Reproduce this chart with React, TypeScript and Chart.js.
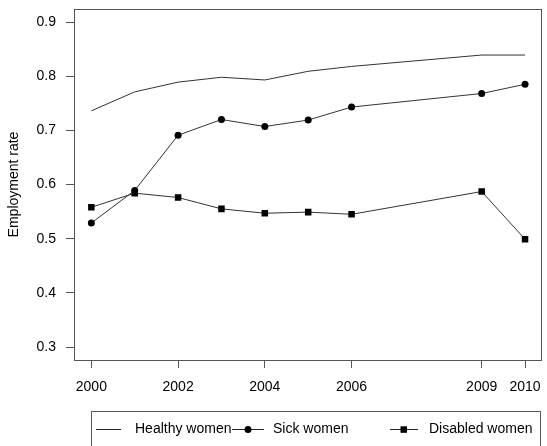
import React, { useEffect, useRef } from "react";
import { Chart, registerables } from "chart.js";

Chart.register(...registerables);

const years = [2000, 2001, 2002, 2003, 2004, 2005, 2006, 2009, 2010];
const healthyWomen = [0.736, 0.771, 0.789, 0.798, 0.793, 0.809, 0.818, 0.839, 0.839];
const sickWomen = [0.529, 0.589, 0.691, 0.72, 0.707, 0.719, 0.743, 0.768, 0.785];
const disabledWomen = [0.558, 0.584, 0.576, 0.555, 0.547, 0.549, 0.545, 0.587, 0.499];
const xTickValues = [2000, 2002, 2004, 2006, 2009, 2010];
const yTickValues = [0.3, 0.4, 0.5, 0.6, 0.7, 0.8, 0.9];
const seriesLabels = ["Healthy women", "Sick women", "Disabled women"];

const FONT = "Liberation Sans, Arial, sans-serif";
const FS = 14;

const toXY = (vals: number[]) => years.map((y, i) => ({ x: y, y: vals[i] }));

const boxLegendPlugin = {
  id: "boxLegend",
  afterDraw(chart: any) {
    const ctx = chart.ctx;
    const a = chart.chartArea;
    ctx.save();
    ctx.strokeStyle = "#555";
    ctx.lineWidth = 1;
    ctx.strokeRect(Math.round(a.left) + 0.5, Math.round(a.top) + 0.5, Math.round(a.right - a.left) - 1, Math.round(a.bottom - a.top));
    // legend
    ctx.strokeRect(91.5, 411.5, 449, 60);
    const ly = 429;
    ctx.font = `${FS}px ${FONT}`;
    ctx.fillStyle = "#000";
    ctx.textBaseline = "middle";
    ctx.textAlign = "left";
    ctx.strokeStyle = "#222";
    // healthy
    ctx.beginPath();
    ctx.moveTo(96, ly + 0.5);
    ctx.lineTo(121, ly + 0.5);
    ctx.stroke();
    ctx.fillText(seriesLabels[0], 135, ly);
    // sick
    ctx.beginPath();
    ctx.moveTo(232, ly + 0.5);
    ctx.lineTo(264, ly + 0.5);
    ctx.stroke();
    ctx.beginPath();
    ctx.arc(248, ly + 0.5, 3.5, 0, Math.PI * 2);
    ctx.fill();
    ctx.fillText(seriesLabels[1], 273, ly);
    // disabled
    ctx.beginPath();
    ctx.moveTo(390, ly + 0.5);
    ctx.lineTo(418, ly + 0.5);
    ctx.stroke();
    ctx.fillRect(400.5, ly - 2.7, 6.5, 6.5);
    ctx.fillText(seriesLabels[2], 429, ly);
    ctx.restore();
  },
};

export default function App() {
  const ref = useRef<HTMLCanvasElement>(null);
  useEffect(() => {
    if (!ref.current) return;
    const chart = new Chart(ref.current, {
      type: "line",
      data: {
        datasets: [
          {
            label: seriesLabels[0],
            data: toXY(healthyWomen),
            borderColor: "#333",
            borderWidth: 1,
            pointRadius: 0,
            tension: 0,
          },
          {
            label: seriesLabels[1],
            data: toXY(sickWomen),
            borderColor: "#333",
            borderWidth: 1,
            pointStyle: "circle",
            pointRadius: 3.5,
            pointBackgroundColor: "#000",
            pointBorderColor: "#000",
            pointBorderWidth: 0,
            tension: 0,
          },
          {
            label: seriesLabels[2],
            data: toXY(disabledWomen),
            borderColor: "#333",
            borderWidth: 1,
            pointStyle: "rect",
            pointRadius: 4.6,
            pointBackgroundColor: "#000",
            pointBorderColor: "#000",
            pointBorderWidth: 0,
            tension: 0,
          },
        ],
      },
      options: {
        responsive: false,
        animation: false,
        devicePixelRatio: 1,
        layout: { padding: { top: 9, right: 1, left: 0, bottom: 0 } },
        plugins: { legend: { display: false }, tooltip: { enabled: false } },
        scales: {
          x: {
            type: "linear",
            min: 1999.6,
            max: 2010.4,
            afterBuildTicks: (s: any) => {
              s.ticks = xTickValues.map((v) => ({ value: v }));
            },
            afterFit: (s: any) => {
              s.height = 86;
              s.paddingLeft = 0;
              s.paddingRight = 0;
            },
            ticks: {
              autoSkip: false,
              maxRotation: 0,
              padding: 11,
              color: "#000",
              font: { family: FONT, size: FS },
              callback: (v: any) => String(v),
            },
            grid: { drawOnChartArea: false, drawTicks: true, tickLength: 8, color: "#555" },
            border: { display: false },
          },
          y: {
            type: "linear",
            min: 0.276,
            max: 0.924,
            afterBuildTicks: (s: any) => {
              s.ticks = yTickValues.map((v) => ({ value: v }));
            },
            afterFit: (s: any) => {
              s.width = 74;
              s.paddingTop = 0;
              s.paddingBottom = 0;
            },
            ticks: {
              autoSkip: false,
              padding: 10,
              color: "#000",
              font: { family: FONT, size: FS },
              callback: (v: any) => Number(v).toFixed(1),
            },
            grid: { drawOnChartArea: false, drawTicks: true, tickLength: 8, color: "#555" },
            border: { display: false },
            title: {
              display: true,
              text: "Employment rate",
              color: "#000",
              font: { family: FONT, size: FS },
              padding: { top: 6, bottom: 0 },
            },
          },
        },
      },
      plugins: [boxLegendPlugin],
    } as any);
    return () => chart.destroy();
  }, []);
  return (
    <div style={{ position: "fixed", left: 0, top: 0, width: 547, height: 446, background: "#fff" }}>
      <canvas ref={ref} width={547} height={446} />
    </div>
  );
}
